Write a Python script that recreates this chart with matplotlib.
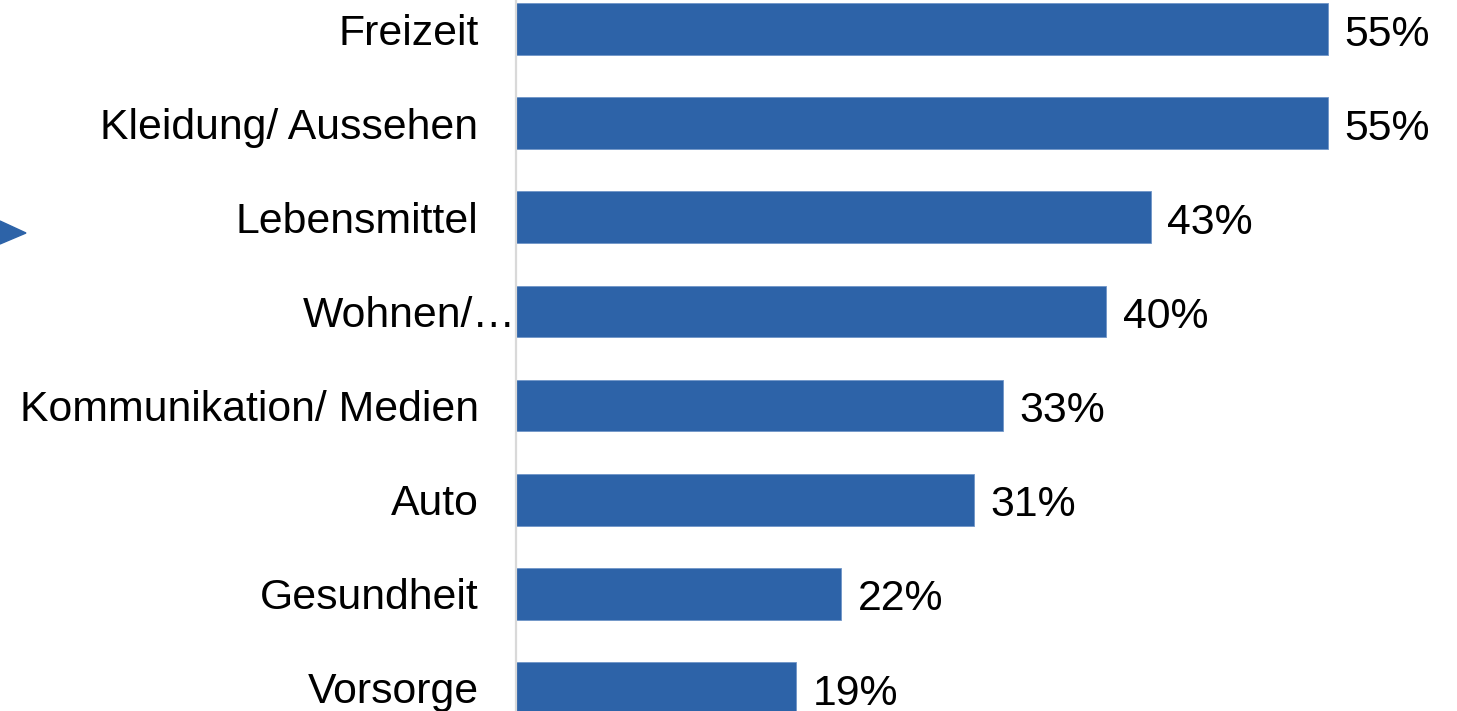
import matplotlib
matplotlib.use("Agg")
import matplotlib.pyplot as plt
from matplotlib.patches import Polygon
from matplotlib.transforms import ScaledTranslation

categories = ["Freizeit", "Kleidung/ Aussehen", "Lebensmittel", "Wohnen/…",
              "Kommunikation/ Medien", "Auto", "Gesundheit", "Vorsorge"]
values = [55, 55, 43, 40, 33, 31, 22, 19]
value_labels = ["55%", "55%", "43%", "40%", "33%", "31%", "22%", "19%"]

plt.rcParams['font.family'] = ['Liberation Sans', 'DejaVu Sans']

fig = plt.figure(figsize=(14.57, 7.11), dpi=100)
ax = fig.add_axes([516/1457, 0, 1 - 516/1457, 1])

bar_color = "#2D63A8"
y = list(range(len(categories)))
ax.barh(y, values, height=0.55, color=bar_color, edgecolor="#6F95C8", linewidth=0.6)

ax.set_xlim(0, (1457 - 516) / 14.76)
ax.set_ylim(7 + 23/94.1, -29/94.1)

FS = 30.8
for yi, v, lab in zip(y, values, value_labels):
    ax.annotate(lab, (v, yi), xytext=(12, -4), textcoords="offset points",
                va="center", ha="left", fontsize=FS, color="black")

ax.set_yticks(y)
ax.set_yticklabels(categories, fontsize=FS)
ax.tick_params(axis="y", length=0, pad=27)
ax.set_xticks([])
for s in ["top", "right", "bottom"]:
    ax.spines[s].set_visible(False)
ax.spines["left"].set_color("#D9D9D9")
ax.spines["left"].set_linewidth(1.6)

# truncated label sits closer to the axis
lbl = ax.get_yticklabels()[3]
lbl.set_transform(lbl.get_transform() + ScaledTranslation(37/100, 0, fig.dpi_scale_trans))

# partial arrow on the left edge
tri = Polygon([[0, 1 - 221/711], [26/1457, 1 - 233/711], [0, 1 - 244/711]],
              closed=True, transform=fig.transFigure, color=bar_color)
fig.patches.append(tri)

fig.savefig("out.png", dpi=100)
